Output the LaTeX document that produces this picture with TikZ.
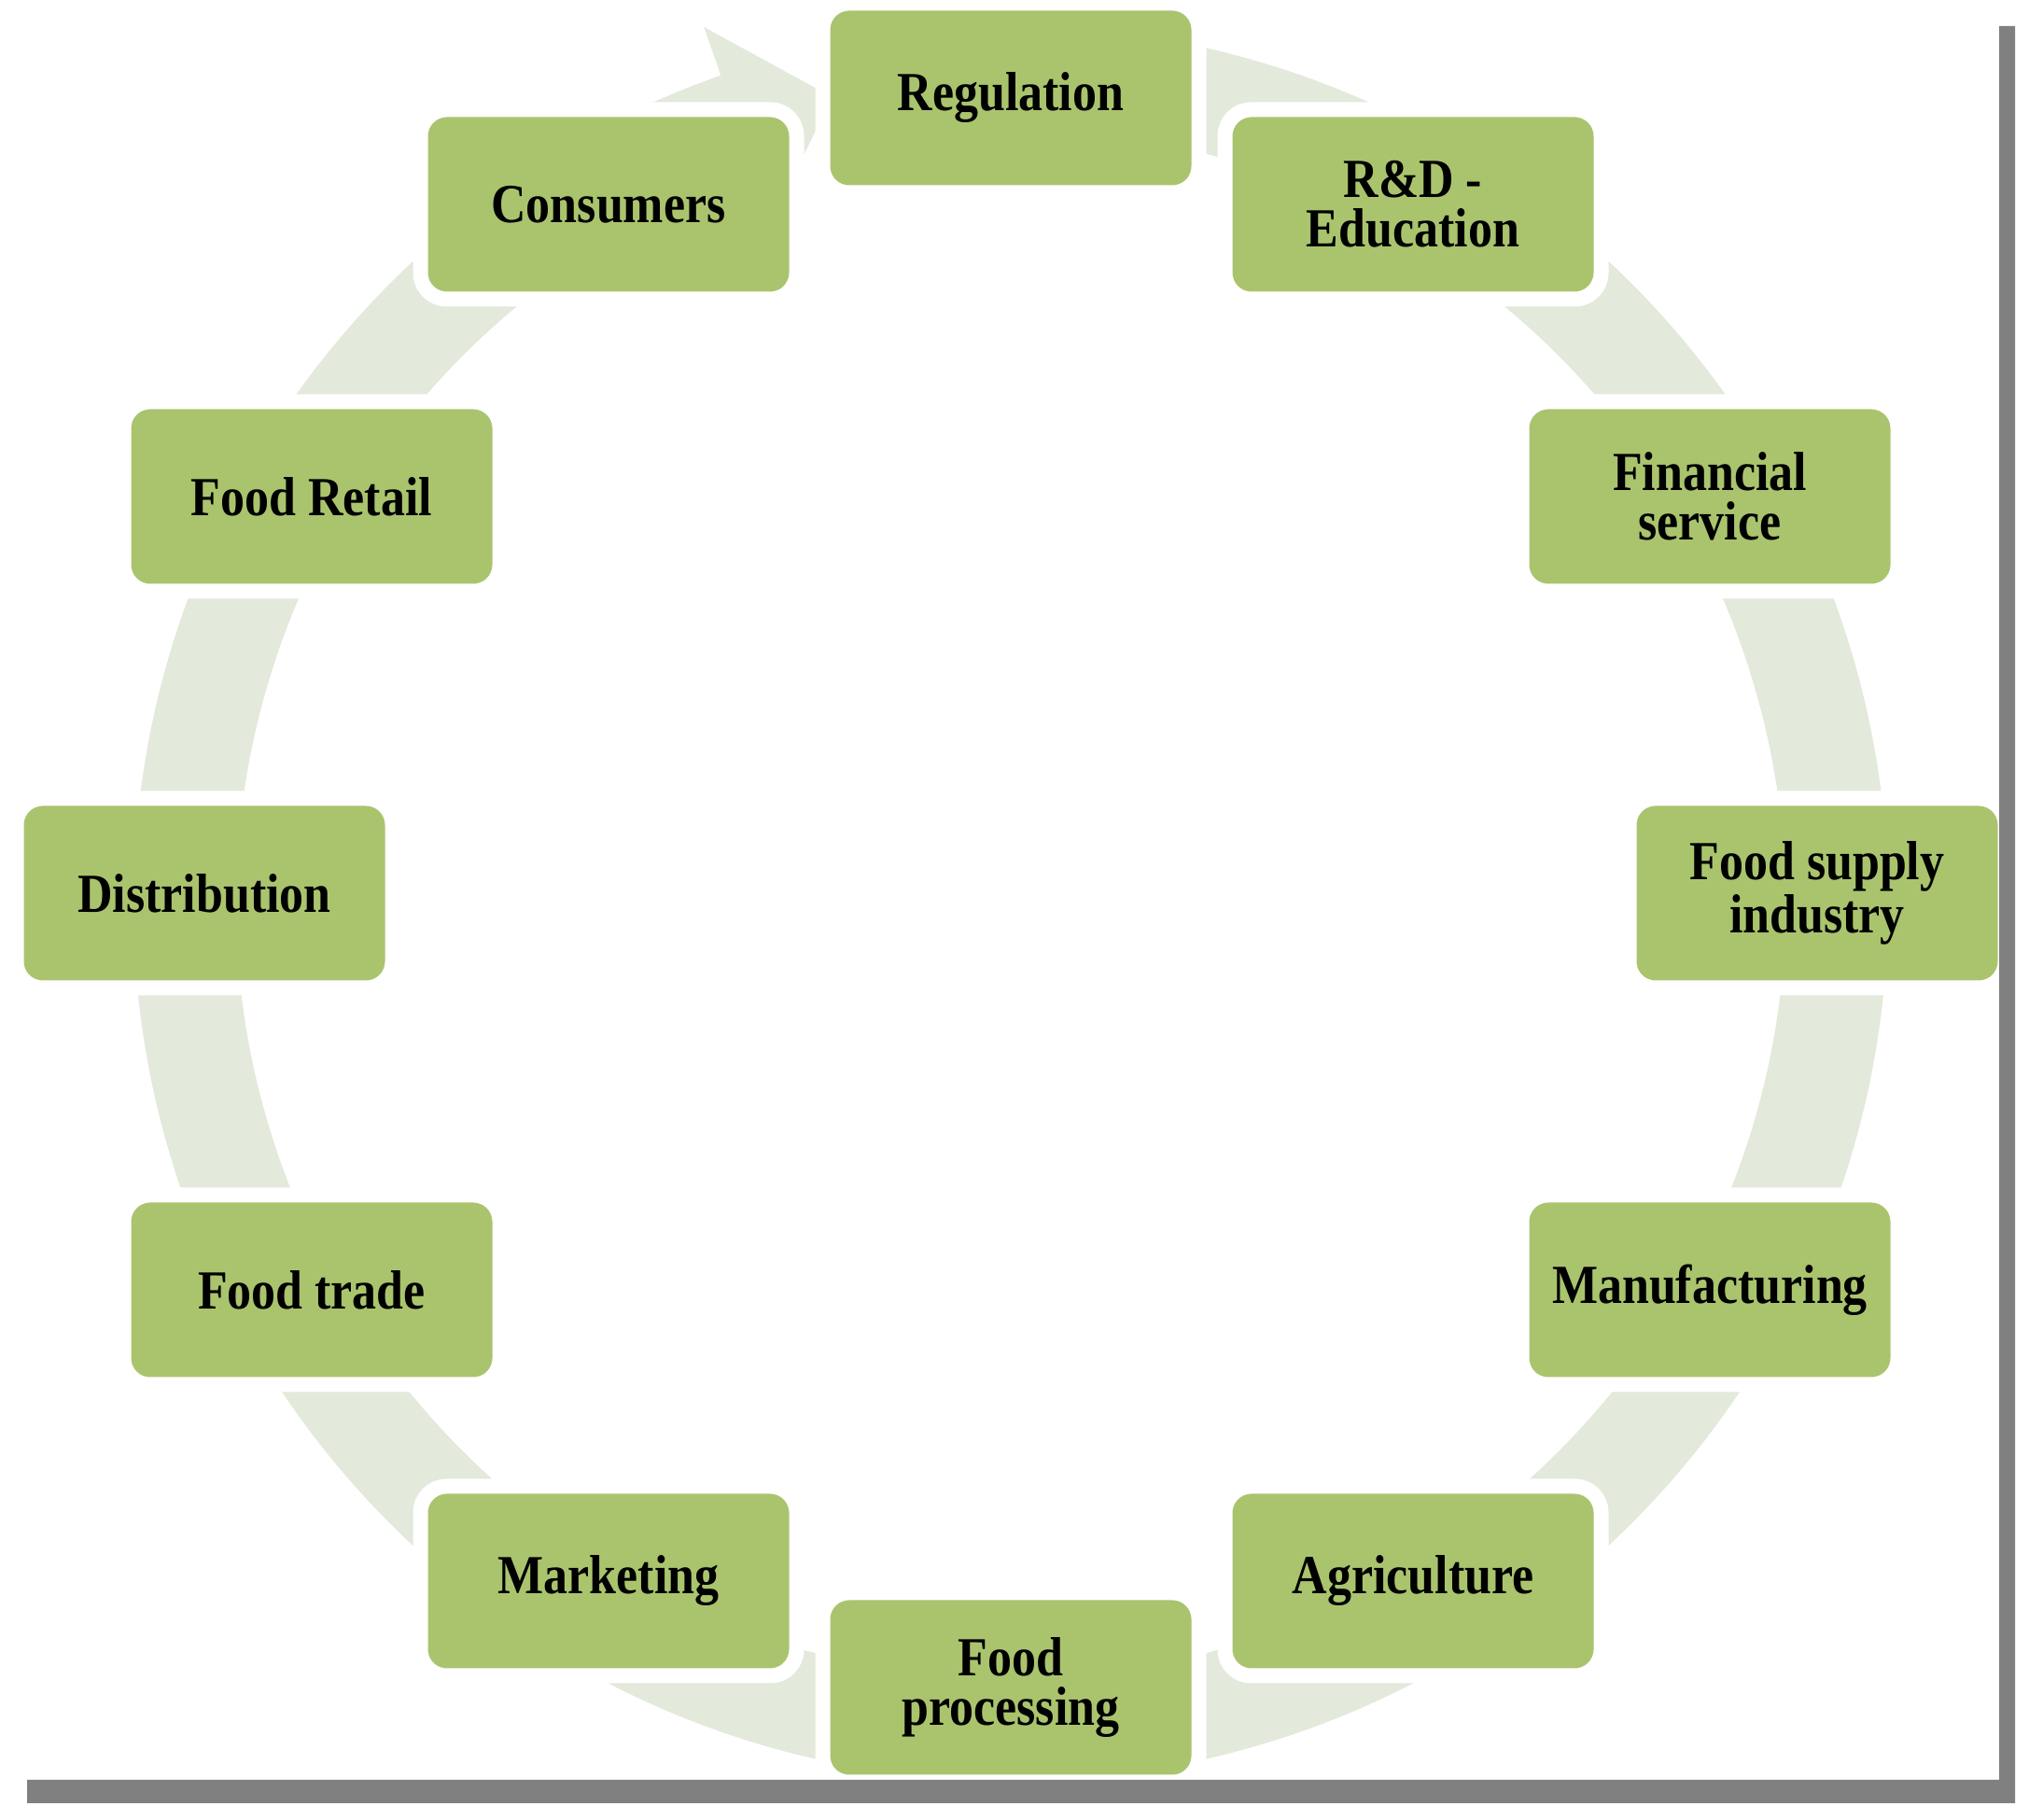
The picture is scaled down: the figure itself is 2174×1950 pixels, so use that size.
\documentclass[tikz,border=0pt]{standalone}
\usepackage{fontspec}
\setmainfont{Liberation Serif}[FakeStretch=0.88]
\definecolor{boxgreen}{RGB}{170,196,110}
\definecolor{ringc}{RGB}{227,233,219}
\definecolor{framegray}{RGB}{128,128,128}
\begin{document}
\begin{tikzpicture}[x=0.1mm,y=0.1mm,
  cyclebox/.style={rectangle, rounded corners=2.8mm, fill=boxgreen, draw=white,
    line width=1.6mm, minimum width=40.3mm, minimum height=20.3mm,
    align=center, inner sep=0pt, text=black,
    font=\fontsize{16.8pt}{15.2pt}\selectfont\bfseries}]
\useasboundingbox (0,0) rectangle (2174,1950);
% circular arrow
\begin{scope}[shift={(1083,982)}]
\fill[ringc] (88:940) arc[start angle=88, end angle=-250.7, radius=940]
  -- (-250.7:995) -- (-257.5:885) -- (-250.7:775) -- (-250.7:830)
  arc[start angle=-250.7, end angle=88, radius=830] -- cycle;
\end{scope}
% nodes
\node[cyclebox] (reg)  at (1083,1845) {Regulation};
\node[cyclebox] (rd)   at (1514,1731) {R\&D -\\Education};
\node[cyclebox] (fin)  at (1832,1418) {Financial\\service};
\node[cyclebox] (sup)  at (1947,993)  {Food supply\\industry};
\node[cyclebox] (man)  at (1832,568)  {Manufacturing};
\node[cyclebox] (agr)  at (1514,256)  {Agriculture};
\node[cyclebox] (proc) at (1083,142)  {Food\\processing};
\node[cyclebox] (mkt)  at (652,256)   {Marketing};
\node[cyclebox] (trd)  at (334,568)   {Food trade};
\node[cyclebox] (dist) at (219,993)   {Distribution};
\node[cyclebox] (ret)  at (334,1418)  {Food Retail};
\node[cyclebox] (cons) at (652,1731)  {Consumers};
% frame shadow
\fill[framegray] (29,18) -- (2159,18) -- (2159,1922) -- (2142,1922) -- (2142,43) -- (29,43) -- cycle;
\end{tikzpicture}
\end{document}
